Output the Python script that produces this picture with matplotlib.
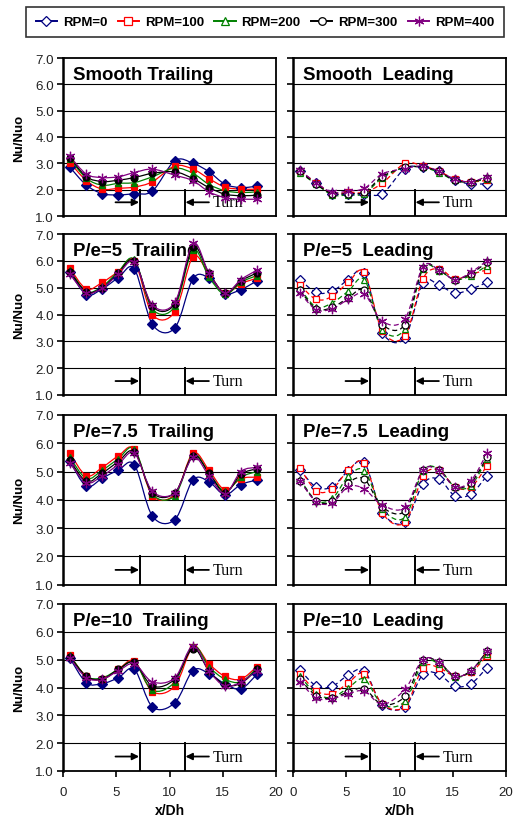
import numpy as np
import matplotlib
matplotlib.use("Agg")
import matplotlib.pyplot as plt
from matplotlib.path import Path
from matplotlib.patches import PathPatch
from matplotlib.lines import Line2D
from matplotlib.ticker import FormatStrFormatter

plt.rcParams['font.family'] = ['Liberation Sans', 'DejaVu Sans']

# measurement stations along the channel
x_dh = [0.65, 2.2, 3.7, 5.2, 6.7, 8.4, 10.5, 12.2, 13.7, 15.2, 16.7, 18.2]

rpm_labels = ['RPM=0', 'RPM=100', 'RPM=200', 'RPM=300', 'RPM=400']
colors = ['#000080', '#FF0000', '#008000', '#000000', '#800080']
markers = ['D', 's', '^', 'o', (6, 2, 0)]

# Nu/Nuo, one row per RPM (0, 100, 200, 300, 400)
smooth_trailing = [
    [2.85, 2.17, 1.85, 1.80, 1.85, 1.95, 3.10, 3.00, 2.68, 2.21, 2.08, 2.13],
    [3.03, 2.34, 2.02, 2.05, 2.10, 2.30, 2.90, 2.78, 2.42, 2.10, 2.02, 2.02],
    [3.16, 2.43, 2.17, 2.24, 2.27, 2.49, 2.82, 2.62, 2.20, 1.96, 1.89, 1.92],
    [3.22, 2.49, 2.31, 2.36, 2.46, 2.62, 2.68, 2.42, 2.08, 1.83, 1.77, 1.79],
    [3.26, 2.59, 2.46, 2.49, 2.65, 2.78, 2.55, 2.34, 1.92, 1.70, 1.64, 1.64],
]
smooth_leading = [
    [2.70, 2.25, 1.85, 1.85, 1.85, 1.85, 2.80, 2.85, 2.70, 2.35, 2.22, 2.22],
    [2.70, 2.25, 1.85, 1.90, 1.90, 2.25, 3.00, 2.90, 2.70, 2.40, 2.30, 2.35],
    [2.65, 2.20, 1.80, 1.80, 1.85, 2.45, 2.85, 2.85, 2.65, 2.35, 2.30, 2.40],
    [2.70, 2.20, 1.85, 1.85, 1.90, 2.50, 2.85, 2.85, 2.70, 2.35, 2.30, 2.45],
    [2.75, 2.25, 1.90, 1.95, 2.05, 2.60, 2.80, 2.90, 2.70, 2.40, 2.30, 2.50],
]
pe5_trailing = [
    [5.58, 4.74, 4.96, 5.37, 5.70, 3.63, 3.50, 5.33, 5.36, 4.78, 4.93, 5.25],
    [5.72, 4.95, 5.20, 5.60, 6.00, 4.00, 4.10, 6.15, 5.50, 4.80, 5.15, 5.35],
    [5.65, 4.85, 5.05, 5.60, 6.05, 4.20, 4.30, 6.40, 5.40, 4.75, 5.20, 5.45],
    [5.60, 4.85, 5.00, 5.55, 6.00, 4.30, 4.40, 6.50, 5.55, 4.80, 5.25, 5.55],
    [5.50, 4.80, 5.00, 5.50, 5.95, 4.35, 4.45, 6.65, 5.55, 4.80, 5.30, 5.65],
]
pe5_leading = [
    [5.30, 4.82, 4.87, 5.30, 5.55, 3.32, 3.13, 5.18, 5.09, 4.80, 4.94, 5.20],
    [5.10, 4.56, 4.68, 5.20, 5.57, 3.38, 3.20, 5.33, 5.70, 5.33, 5.50, 5.66],
    [4.96, 4.27, 4.44, 4.87, 5.30, 3.44, 3.46, 5.70, 5.63, 5.30, 5.45, 5.82],
    [4.90, 4.20, 4.27, 4.62, 4.90, 3.62, 3.62, 5.75, 5.66, 5.30, 5.52, 5.94],
    [4.80, 4.17, 4.22, 4.56, 4.76, 3.74, 3.83, 5.78, 5.66, 5.30, 5.57, 6.00],
]
pe75_trailing = [
    [5.36, 4.48, 4.77, 5.05, 5.24, 3.42, 3.30, 4.70, 4.64, 4.18, 4.54, 4.70],
    [5.65, 4.85, 5.15, 5.55, 5.80, 4.15, 4.20, 5.65, 5.05, 4.35, 4.75, 4.80],
    [5.50, 4.75, 5.05, 5.45, 5.80, 4.20, 4.15, 5.60, 4.95, 4.30, 4.80, 5.00],
    [5.40, 4.65, 4.95, 5.35, 5.70, 4.25, 4.25, 5.55, 4.95, 4.25, 4.90, 5.10],
    [5.30, 4.60, 4.85, 5.25, 5.65, 4.30, 4.25, 5.50, 4.85, 4.20, 5.00, 5.15],
]
pe75_leading = [
    [5.06, 4.44, 4.47, 5.03, 5.32, 3.55, 3.20, 4.56, 4.73, 4.14, 4.20, 4.85],
    [5.12, 4.32, 4.38, 5.05, 5.29, 3.53, 3.20, 4.83, 5.05, 4.46, 4.44, 5.20],
    [4.73, 3.97, 4.05, 4.83, 5.03, 3.67, 3.38, 5.03, 5.08, 4.46, 4.50, 5.44],
    [4.68, 3.95, 3.95, 4.60, 4.73, 3.74, 3.60, 5.05, 5.05, 4.46, 4.60, 5.50],
    [4.67, 3.93, 3.90, 4.47, 4.38, 3.81, 3.73, 5.05, 5.05, 4.46, 4.67, 5.64],
]
pe10_trailing = [
    [5.05, 4.17, 4.14, 4.35, 4.65, 3.30, 3.45, 4.61, 4.50, 4.13, 3.95, 4.47],
    [5.15, 4.40, 4.30, 4.65, 4.95, 3.85, 4.05, 5.45, 4.85, 4.40, 4.30, 4.75],
    [5.15, 4.40, 4.35, 4.65, 4.90, 3.90, 4.20, 5.50, 4.75, 4.30, 4.20, 4.70],
    [5.10, 4.40, 4.30, 4.65, 4.90, 4.05, 4.30, 5.40, 4.60, 4.10, 4.15, 4.65],
    [5.05, 4.35, 4.30, 4.60, 4.85, 4.20, 4.35, 5.50, 4.60, 4.05, 4.20, 4.60],
]
pe10_leading = [
    [4.63, 4.05, 4.05, 4.45, 4.60, 3.37, 3.30, 4.47, 4.47, 4.05, 4.13, 4.71],
    [4.50, 3.87, 3.78, 4.17, 4.50, 3.40, 3.32, 4.71, 4.71, 4.41, 4.55, 5.13],
    [4.41, 3.77, 3.65, 3.99, 4.30, 3.39, 3.50, 4.90, 4.85, 4.38, 4.58, 5.20],
    [4.30, 3.70, 3.62, 3.85, 3.95, 3.39, 3.68, 4.98, 4.90, 4.41, 4.60, 5.30],
    [4.20, 3.62, 3.60, 3.78, 3.87, 3.39, 3.93, 5.00, 4.92, 4.41, 4.60, 5.30],
]

titles_trailing = ['Smooth Trailing', 'P/e=5  Trailing', 'P/e=7.5  Trailing', 'P/e=10  Trailing']
titles_leading = ['Smooth  Leading', 'P/e=5  Leading', 'P/e=7.5  Leading', 'P/e=10  Leading']
data_trailing = [smooth_trailing, pe5_trailing, pe75_trailing, pe10_trailing]
data_leading = [smooth_leading, pe5_leading, pe75_leading, pe10_leading]


def smooth_path(x, y, t=1.0 / 6):
    # Excel-like smoothed line: cubic Bezier through the points
    pts = np.column_stack([x, y])
    n = len(pts)
    verts = [pts[0]]
    codes = [Path.MOVETO]
    for i in range(n - 1):
        p0 = pts[i - 1] if i > 0 else pts[i]
        p1 = pts[i]
        p2 = pts[i + 1]
        p3 = pts[i + 2] if i + 2 < n else pts[i + 1]
        verts += [p1 + (p2 - p0) * t, p2 - (p3 - p1) * t, p2]
        codes += [Path.CURVE4] * 3
    return Path(verts, codes)


W, H = 522, 820
fig = plt.figure(figsize=(W / 100, H / 100), dpi=100)

rows = [(59, 217), (235, 396), (416, 585.6), (605, 772)]
cols = [(63, 276), (293, 506)]


def make_axes(col, row):
    (l, r), (t, b) = cols[col], rows[row]
    return fig.add_axes([l / W, 1 - b / H, (r - l) / W, (b - t) / H])


def style_axes(ax, title, left, bottom, row):
    ax.set_xlim(0, 20)
    ax.set_ylim(1, 7)
    ax.set_yticks(range(1, 8))
    ax.yaxis.set_major_formatter(FormatStrFormatter('%.1f'))
    for y in range(2, 7):
        ax.axhline(y, color='black', lw=0.8, zorder=0)
    for s in ax.spines.values():
        s.set_linewidth(1.3)
    ax.spines['left'].set_linewidth(1.8)
    ax.tick_params(axis='y', length=4, width=1.2, pad=2.5, labelsize=9.6,
                   labelleft=left, colors='black')
    ax.tick_params(axis='y', labelcolor='#222222')
    if bottom:
        ax.set_xticks([0, 5, 10, 15, 20])
        ax.tick_params(axis='x', length=4, width=1.2, pad=7, labelsize=9.6,
                       labelcolor='#222222')
        ax.set_xlabel('x/Dh', fontsize=10, fontweight='bold')
        ax.xaxis.set_label_coords(0.5, -0.19)
    else:
        ax.tick_params(axis='x', bottom=False, labelbottom=False)
    if left:
        ax.set_ylabel('Nu/Nuo', fontsize=9.5, fontweight='bold')
        ax.yaxis.set_label_coords(-0.18, 0.5)
    h = rows[row][1] - rows[row][0]
    ax.text(10 / 213, 1 - 21 / h, title, transform=ax.transAxes,
            fontsize=13.4, fontweight='bold', va='baseline', ha='left', zorder=1)
    # turn markers
    ax.plot([7.26, 7.26], [1, 2], color='black', lw=1.4, zorder=1)
    ax.plot([11.42, 11.42], [1, 2], color='black', lw=1.4, zorder=1)
    ya = 1.52
    ax.annotate('', xy=(7.15, ya), xytext=(4.93, ya),
                arrowprops=dict(arrowstyle='-|>', color='black', lw=1.3,
                                mutation_scale=10, shrinkA=0, shrinkB=0))
    ax.annotate('', xy=(11.5, ya), xytext=(13.7, ya),
                arrowprops=dict(arrowstyle='-|>', color='black', lw=1.3,
                                mutation_scale=10, shrinkA=0, shrinkB=0))
    ax.text(14.1, ya, 'Turn', fontsize=11.5, family='Liberation Serif',
            va='center', ha='left')


def draw_series(ax, data, filled):
    for vals, c, m in zip(data, colors, markers):
        ls = '-' if filled else (0, (4, 2.5))
        patch = PathPatch(smooth_path(x_dh, vals), fill=False, edgecolor=c,
                          lw=0.9, linestyle=ls, zorder=3)
        ax.add_patch(patch)
        ms = 5.0 if m != (6, 2, 0) else 6.8
        ax.plot(x_dh, vals, linestyle='none', marker=m, ms=ms, color=c,
                mfc=c if filled else 'white', mec=c, mew=0.9, zorder=4)


for row in range(4):
    ax = make_axes(0, row)
    style_axes(ax, titles_trailing[row], True, row == 3, row)
    draw_series(ax, data_trailing[row], True)

    ax = make_axes(1, row)
    style_axes(ax, titles_leading[row], False, row == 3, row)
    draw_series(ax, data_leading[row], False)

handles = [Line2D([], [], color=c, marker=m, mfc='white', mec=c, lw=1.4,
                  ms=5.5 if m != (6, 2, 0) else 7, mew=0.9)
           for c, m in zip(colors, markers)]
leg = fig.legend(handles, rpm_labels, loc='center', ncol=5,
                 bbox_to_anchor=(265 / W, 1 - 23 / H),
                 prop={'weight': 'bold', 'size': 9.5}, frameon=True,
                 fancybox=False, edgecolor='black', handlelength=1.6,
                 handletextpad=0.45, columnspacing=0.8, borderpad=0.7)
leg.get_frame().set_linewidth(1.2)

fig.savefig('out.png', dpi=100)
